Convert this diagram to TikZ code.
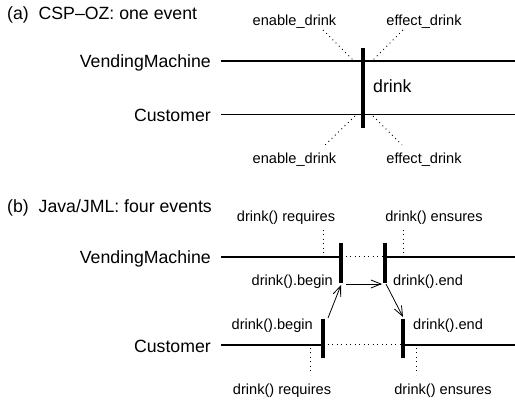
\documentclass[tikz,border=0pt]{standalone}
\usepackage{fontspec}
\setmainfont{Liberation Sans}
\usetikzlibrary{arrows.meta}
\begin{document}
\begin{tikzpicture}[x=1pt,y=-1pt,
  big/.style={font=\fontsize{17.7}{20}\selectfont, inner sep=0pt},
  small/.style={font=\fontsize{14.6}{17}\selectfont, inner sep=0pt},
  life/.style={line width=1.3pt},
  evbar/.style={line width=4.5pt},
  dots/.style={line width=1pt, dash pattern=on 0.9pt off 3.6pt},
  msg/.style={line width=0.8pt, -{Straight Barb[length=10pt,width=8pt]}}]
\useasboundingbox (0,0) rectangle (515,403);

% ---------- (a) ----------
\node[big, anchor=base west] (ta) at (7,19.5) {(a)\ \ CSP--OZ: one event};
\node[big, anchor=base east] (vmA) at (211,68) {VendingMachine};
\node[big, anchor=base east] (cuA) at (211,122) {Customer};
\coordinate (vmAL) at (221,61); \coordinate (vmAR) at (515,61);
\coordinate (cuAL) at (221,114.5); \coordinate (cuAR) at (515,114.5);
\draw[life] (vmAL) -- (vmAR);
\draw[life] (cuAL) -- (cuAR);
\coordinate (barT) at (363,48); \coordinate (barB) at (363,128);
\draw[evbar] (barT) -- (barB);
\node[big, anchor=base west] (drink) at (373,93) {drink};
\node[small, anchor=base] (en1) at (294.5,26) {enable\_drink};
\node[small, anchor=base] (ef1) at (424,26) {effect\_drink};
\node[small, anchor=base] (en2) at (294.5,164) {enable\_drink};
\node[small, anchor=base] (ef2) at (424,164) {effect\_drink};
\coordinate (d1a) at (323,30); \coordinate (d1b) at (353,60);
\coordinate (d2a) at (403,30); \coordinate (d2b) at (373,60);
\coordinate (d3a) at (355,116); \coordinate (d3b) at (325,145);
\coordinate (d4a) at (373,116); \coordinate (d4b) at (402,145);
\draw[dots] (d1a) -- (d1b);
\draw[dots] (d2a) -- (d2b);
\draw[dots] (d3a) -- (d3b);
\draw[dots] (d4a) -- (d4b);

% ---------- (b) ----------
\node[big, anchor=base west] (tb) at (7,213) {(b)\ \ Java/JML: four events};
\node[big, anchor=base east] (vmB) at (211,264) {VendingMachine};
\node[big, anchor=base east] (cuB) at (211,352.5) {Customer};
% bars
\coordinate (vb1T) at (341,243); \coordinate (vb1B) at (341,283);
\coordinate (vb2T) at (385,243); \coordinate (vb2B) at (385,283);
\coordinate (cb1T) at (323,319); \coordinate (cb1B) at (323,358);
\coordinate (cb2T) at (403,319); \coordinate (cb2B) at (403,358);
% lifelines
\coordinate (vmBL) at (221,257); \coordinate (vmBR) at (515,257);
\coordinate (vb1M) at (341,257); \coordinate (vb2M) at (385,257);
\coordinate (cuBL) at (221,345); \coordinate (cuBR) at (515,345);
\coordinate (cb1M) at (323,345); \coordinate (cb2M) at (403,345);
\draw[life] (vmBL) -- (vb1M);
\draw[dots] (vb1M) -- (vb2M);
\draw[life] (vb2M) -- (vmBR);
\draw[life] (cuBL) -- (cb1M);
\draw[dots] (cb1M) -- (cb2M);
\draw[life] (cb2M) -- (cuBR);
\draw[evbar] (vb1T) -- (vb1B);
\draw[evbar] (vb2T) -- (vb2B);
\draw[evbar] (cb1T) -- (cb1B);
\draw[evbar] (cb2T) -- (cb2B);
% labels
\node[small, anchor=base] (rq1) at (286,221.5) {drink() requires};
\node[small, anchor=base] (en3) at (434,221.5) {drink() ensures};
\node[small, anchor=base] (rq2) at (282,394.5) {drink() requires};
\node[small, anchor=base] (en4) at (443,394.5) {drink() ensures};
\node[small, anchor=base east] (vbeg) at (333,285.5) {drink().begin};
\node[small, anchor=base west] (vend) at (393,285.5) {drink().end};
\node[small, anchor=base east] (cbeg) at (313,329.5) {drink().begin};
\node[small, anchor=base west] (cend) at (413,329.5) {drink().end};
% dotted verticals
\coordinate (q1a) at (323,230); \coordinate (q1b) at (323,256);
\coordinate (q2a) at (403,230); \coordinate (q2b) at (403,256);
\coordinate (q3a) at (310,348); \coordinate (q3b) at (310,375);
\coordinate (q4a) at (416,348); \coordinate (q4b) at (416,375);
\draw[dots] (q1a) -- (q1b);
\draw[dots] (q2a) -- (q2b);
\draw[dots] (q3a) -- (q3b);
\draw[dots] (q4a) -- (q4b);
% messages
\coordinate (m1a) at (328,318); \coordinate (m1b) at (341,285);
\coordinate (m2a) at (346,284); \coordinate (m2b) at (382,284);
\coordinate (m3a) at (386,284); \coordinate (m3b) at (403,317);
\draw[msg] (m1a) -- (m1b);
\draw[msg] (m2a) -- (m2b);
\draw[msg] (m3a) -- (m3b);
\end{tikzpicture}
\end{document}
